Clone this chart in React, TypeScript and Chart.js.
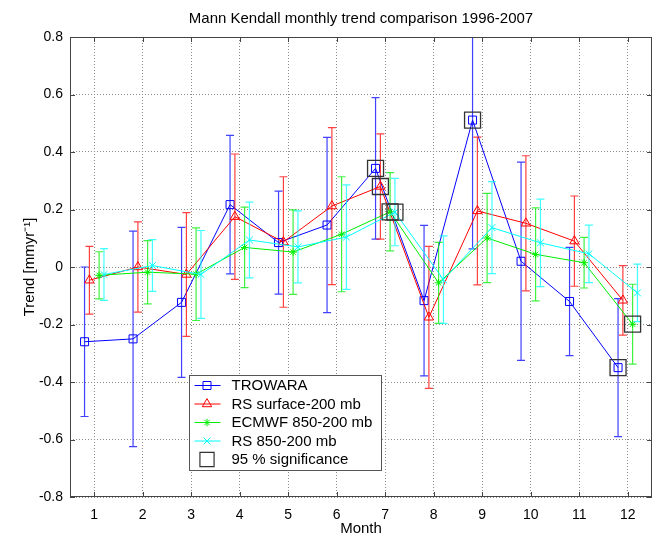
import React, { useEffect, useRef } from 'react';
import { Chart, registerables } from 'chart.js';

Chart.register(...registerables);

// ---------- data ----------
const months = [1, 2, 3, 4, 5, 6, 7, 8, 9, 10, 11, 12];
const yTickValues = [-0.8, -0.6, -0.4, -0.2, 0, 0.2, 0.4, 0.6, 0.8];

const trowara = [-0.26, -0.25, -0.123, 0.217, 0.085, 0.146, 0.343, -0.117, 0.511, 0.02, -0.12, -0.35];
const trowaraErr = [0.26, 0.375, 0.261, 0.241, 0.179, 0.305, 0.246, 0.262, 0.448, 0.345, 0.188, 0.24];
const trowaraSig = [0, 0, 0, 0, 0, 0, 1, 0, 1, 0, 0, 1];

const rsSurface = [-0.046, 0.0, -0.026, 0.175, 0.087, 0.212, 0.28, -0.175, 0.195, 0.152, 0.09, -0.116];
const rsSurfaceErr = [0.118, 0.157, 0.215, 0.218, 0.227, 0.273, 0.183, 0.247, 0.257, 0.235, 0.157, 0.121];
const rsSurfaceSig = [0, 0, 0, 0, 0, 0, 1, 0, 0, 0, 0, 0];

const ecmwf = [-0.029, -0.018, -0.025, 0.068, 0.052, 0.114, 0.192, -0.055, 0.101, 0.044, 0.015, -0.199];
const ecmwfErr = [0.082, 0.11, 0.161, 0.14, 0.147, 0.2, 0.136, 0.141, 0.155, 0.162, 0.088, 0.139];
const ecmwfSig = [0, 0, 0, 0, 0, 0, 1, 0, 0, 0, 0, 1];

const rs850 = [-0.026, 0.005, -0.026, 0.094, 0.07, 0.104, 0.191, -0.044, 0.137, 0.084, 0.046, -0.09];
const rs850Err = [0.09, 0.09, 0.153, 0.132, 0.125, 0.182, 0.117, 0.152, 0.16, 0.152, 0.1, 0.1];
const rs850Sig = [0, 0, 0, 0, 0, 0, 1, 0, 0, 0, 0, 0];

const seriesLabels = ['TROWARA', 'RS surface-200 mb', 'ECMWF 850-200 mb', 'RS 850-200 mb'];
const sigLabel = '95 % significance';
const titleText = 'Mann Kendall monthly trend comparison 1996-2007';
const xTitle = 'Month';
const yTitle = 'Trend [mmyr\u207B\u00B9]';

// ---------- styles ----------
const FONT = "'Liberation Sans', Arial, Helvetica, sans-serif";
const seriesStyles = [
  { color: '#0000ff', point: 'rect', radius: 5.66, offset: -0.2 },
  { color: '#ff0000', point: 'triangle', radius: 5.4, offset: -0.1 },
  { color: '#00ee00', point: 'star', radius: 3.8, offset: 0.1 },
  { color: '#00ffff', point: 'crossRot', radius: 4.8, offset: 0.2 },
];
const SIG_COLOR = '#333333';

function drawMarker(ctx: CanvasRenderingContext2D, style: string, x: number, y: number, r: number) {
  ctx.beginPath();
  if (style === 'rect') {
    const s = Math.SQRT1_2 * r;
    ctx.rect(x - s, y - s, 2 * s, 2 * s);
  } else if (style === 'triangle') {
    let a = 0;
    ctx.moveTo(x + Math.sin(a) * r, y - Math.cos(a) * r);
    a += (2 * Math.PI) / 3;
    ctx.lineTo(x + Math.sin(a) * r, y - Math.cos(a) * r);
    a += (2 * Math.PI) / 3;
    ctx.lineTo(x + Math.sin(a) * r, y - Math.cos(a) * r);
    ctx.closePath();
  } else if (style === 'star' || style === 'crossRot') {
    const d = Math.SQRT1_2 * r;
    ctx.moveTo(x - d, y - d); ctx.lineTo(x + d, y + d);
    ctx.moveTo(x - d, y + d); ctx.lineTo(x + d, y - d);
    if (style === 'star') {
      ctx.moveTo(x, y - r); ctx.lineTo(x, y + r);
      ctx.moveTo(x - r, y); ctx.lineTo(x + r, y);
    }
  }
  ctx.stroke();
}

const errorBarPlugin = {
  id: 'errorBars',
  beforeDatasetDraw(chart: any, args: any) {
    const ds = chart.data.datasets[args.index];
    if (!ds.errors) return;
    const { ctx, chartArea } = chart;
    const xs = chart.scales.x;
    const ys = chart.scales.y;
    ctx.save();
    ctx.beginPath();
    ctx.rect(chartArea.left, chartArea.top, chartArea.right - chartArea.left, chartArea.bottom - chartArea.top);
    ctx.clip();
    ctx.strokeStyle = ds.borderColor;
    ctx.globalAlpha = 0.75;
    ctx.lineWidth = 1.2;
    ds.data.forEach((p: any, i: number) => {
      const e = ds.errors[i];
      const x = xs.getPixelForValue(p.x);
      const y1 = ys.getPixelForValue(p.y + e);
      const y2 = ys.getPixelForValue(p.y - e);
      ctx.beginPath();
      ctx.moveTo(x, y1); ctx.lineTo(x, y2);
      ctx.moveTo(x - 4, y1); ctx.lineTo(x + 4, y1);
      ctx.moveTo(x - 4, y2); ctx.lineTo(x + 4, y2);
      ctx.stroke();
    });
    ctx.restore();
  },
};

const axesBoxPlugin = {
  id: 'axesBox',
  afterDatasetsDraw(chart: any) {
    const { ctx, chartArea } = chart;
    const { left, right, top, bottom } = chartArea;
    const xs = chart.scales.x;
    const ys = chart.scales.y;
    ctx.save();
    ctx.strokeStyle = '#444444';
    ctx.lineWidth = 1;
    ctx.strokeRect(Math.round(left) + 0.5, Math.round(top) + 0.5, Math.round(right - left) - 1, Math.round(bottom - top) - 1);
    const tl = 5;
    ctx.beginPath();
    months.forEach((m) => {
      const x = Math.round(xs.getPixelForValue(m)) + 0.5;
      ctx.moveTo(x, bottom); ctx.lineTo(x, bottom - tl);
      ctx.moveTo(x, top); ctx.lineTo(x, top + tl);
    });
    yTickValues.forEach((v) => {
      const y = Math.round(ys.getPixelForValue(v)) + 0.5;
      ctx.moveTo(left, y); ctx.lineTo(left + tl, y);
      ctx.moveTo(right, y); ctx.lineTo(right - tl, y);
    });
    ctx.stroke();
    // title centred over the axes
    ctx.fillStyle = '#000000';
    ctx.font = `15px ${FONT}`;
    ctx.textAlign = 'center';
    ctx.textBaseline = 'middle';
    ctx.fillText(titleText, (left + right) / 2, top - 18);
    ctx.restore();
  },
};

const legendPlugin = {
  id: 'customLegend',
  afterDraw(chart: any) {
    const { ctx, chartArea } = chart;
    const lx = Math.round(chartArea.left + 119) + 0.5;
    const ly = Math.round(chartArea.top + 338) + 0.5;
    const w = 192;
    const h = 95;
    ctx.save();
    ctx.fillStyle = '#ffffff';
    ctx.fillRect(lx, ly, w, h);
    ctx.strokeStyle = '#555555';
    ctx.lineWidth = 1;
    ctx.strokeRect(lx, ly, w, h);
    ctx.font = `15px ${FONT}`;
    ctx.textBaseline = 'middle';
    ctx.textAlign = 'left';
    const rows = [...seriesLabels, sigLabel];
    rows.forEach((label, i) => {
      const cy = ly + 10 + i * 18.5;
      const mx = lx + 17.5;
      if (i < seriesStyles.length) {
        const st = seriesStyles[i];
        ctx.strokeStyle = st.color;
        ctx.lineWidth = 1;
        ctx.beginPath();
        ctx.moveTo(lx + 5, cy); ctx.lineTo(lx + 31, cy);
        ctx.stroke();
        drawMarker(ctx, st.point, mx, cy, st.radius);
      } else {
        ctx.strokeStyle = SIG_COLOR;
        ctx.lineWidth = 1.2;
        drawMarker(ctx, 'rect', mx, cy, 10);
      }
      ctx.fillStyle = '#000000';
      ctx.fillText(label, lx + 42, cy + 0.5);
    });
    ctx.restore();
  },
};

export default function App() {
  const ref = useRef<HTMLCanvasElement>(null);
  useEffect(() => {
    document.body.style.margin = '0';
    const canvas = ref.current;
    if (!canvas) return;
    Chart.defaults.font.family = FONT;
    Chart.defaults.color = '#000000';

    const seriesValues = [trowara, rsSurface, ecmwf, rs850];
    const seriesErrors = [trowaraErr, rsSurfaceErr, ecmwfErr, rs850Err];
    const seriesSig = [trowaraSig, rsSurfaceSig, ecmwfSig, rs850Sig];

    const datasets: any[] = seriesValues.map((vals, s) => {
      const st = seriesStyles[s];
      return {
        type: 'line',
        label: seriesLabels[s],
        data: months.map((m, i) => ({ x: m + st.offset, y: vals[i] })),
        errors: seriesErrors[s],
        borderColor: st.color,
        borderWidth: 1,
        pointStyle: st.point,
        pointRadius: st.radius,
        pointBorderColor: st.color,
        pointBackgroundColor: 'rgba(0,0,0,0)',
        pointBorderWidth: 1,
        fill: false,
        tension: 0,
        order: 4 - s,
      };
    });

    const sigPoints: any[] = [];
    seriesValues.forEach((vals, s) => {
      months.forEach((m, i) => {
        if (seriesSig[s][i]) sigPoints.push({ x: m + seriesStyles[s].offset, y: vals[i] });
      });
    });
    datasets.push({
      type: 'line',
      label: sigLabel,
      data: sigPoints,
      showLine: false,
      pointStyle: 'rect',
      pointRadius: 11.3,
      pointBorderColor: SIG_COLOR,
      pointBackgroundColor: 'rgba(0,0,0,0)',
      pointBorderWidth: 1.3,
      order: -1,
    });

    const chart = new Chart(canvas, {
      type: 'line',
      data: { datasets },
      plugins: [errorBarPlugin, axesBoxPlugin, legendPlugin],
      options: {
        animation: false,
        responsive: false,
        layout: { autoPadding: false, padding: { left: 0, right: 1, top: 37, bottom: 0 } },
        plugins: {
          legend: { display: false },
          tooltip: { enabled: false },
          title: { display: false },
        },
        scales: {
          x: {
            type: 'linear',
            min: 0.5,
            max: 12.5,
            afterBuildTicks: (axis: any) => {
              axis.ticks = months.map((m) => ({ value: m }));
            },
            afterFit: (scale: any) => {
              scale.height = 39;
              scale.paddingLeft = 0;
              scale.paddingRight = 0;
            },
            ticks: {
              callback: (v: any) => String(v),
              font: { size: 14, family: FONT },
              color: '#000000',
              padding: 10,
              maxRotation: 0,
              autoSkip: false,
            },
            grid: { color: '#8a8a8a', lineWidth: 1, drawTicks: false },
            border: { display: false, dash: [1, 2] },
            title: {
              display: true,
              text: xTitle,
              color: '#000000',
              font: { size: 15, family: FONT },
              padding: { top: 0, bottom: -2 },
            },
          },
          y: {
            type: 'linear',
            min: -0.8,
            max: 0.8,
            afterBuildTicks: (axis: any) => {
              axis.ticks = yTickValues.map((v) => ({ value: v }));
            },
            afterFit: (scale: any) => {
              scale.width = 70;
              scale.paddingTop = 0;
              scale.paddingBottom = 0;
            },
            ticks: {
              callback: (v: any) => String(Math.round(Number(v) * 10) / 10),
              font: { size: 14, family: FONT },
              color: '#000000',
              padding: 7,
            },
            grid: { color: '#8a8a8a', lineWidth: 1, drawTicks: false },
            border: { display: false, dash: [1, 2] },
            title: {
              display: true,
              text: yTitle,
              color: '#000000',
              font: { size: 15, family: FONT },
              padding: { top: 21, bottom: 0 },
            },
          },
        },
      } as any,
    } as any);
    return () => chart.destroy();
  }, []);
  return (
    <div style={{ width: 653, height: 536 }}>
      <canvas ref={ref} width={653} height={536} style={{ display: 'block' }} />
    </div>
  );
}
